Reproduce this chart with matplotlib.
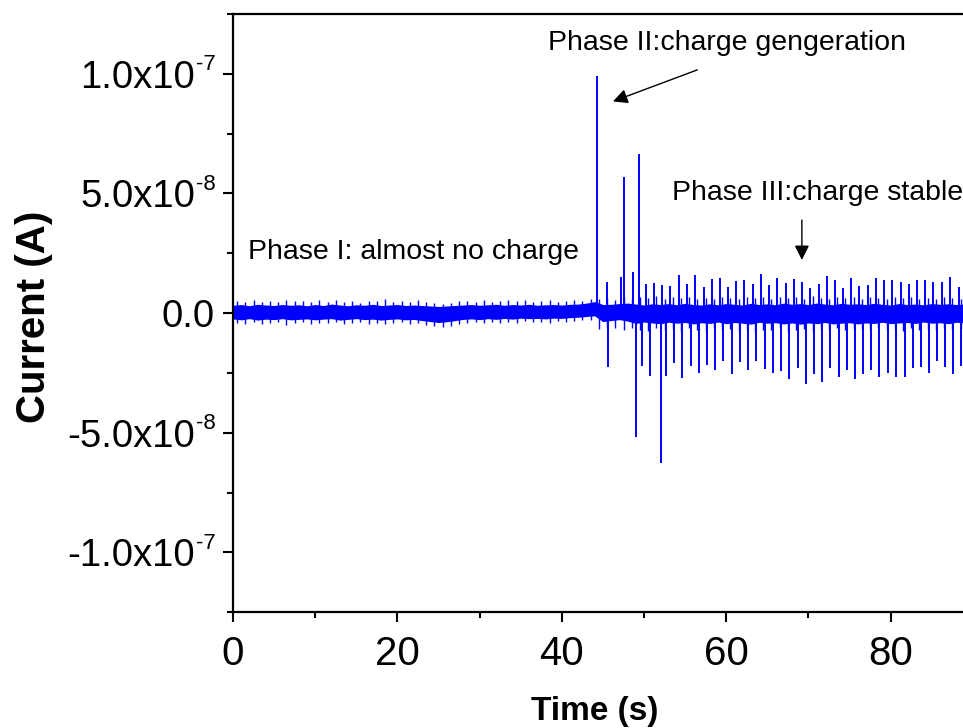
import numpy as np
import matplotlib
matplotlib.use("Agg")
import matplotlib.pyplot as plt
from matplotlib import font_manager
from matplotlib.ticker import MultipleLocator, NullFormatter

# --- DATA (current values in units of 1e-9 A, time in s) ---------------------
# noise band core, one reading per second
band_t = list(range(0, 90))
band_hi = [2.9, 3.2, 2.7, 3.3, 3.0, 2.8, 3.2, 2.9, 3.1, 2.7,
           3.2, 2.8, 3.4, 3.0, 2.7, 3.1, 2.9, 3.3, 2.8, 3.0,
           3.2, 2.8, 3.0, 2.8, 2.6, 2.4, 2.6, 2.8, 3.0, 3.2,
           2.9, 3.1, 3.3, 2.9, 3.2, 3.0, 3.3, 2.9, 3.1, 3.2,
           3.0, 3.3, 3.4, 3.8, 4.4, 3.2, 3.3, 3.6, 3.8, 3.4,
           3.0, 3.5, 3.2, 3.6, 3.1, 3.7, 3.2, 3.0, 3.5, 3.1,
           3.6, 3.3, 3.0, 3.7, 3.2, 3.5, 3.1, 3.8, 3.3, 3.6,
           3.2, 3.8, 3.4, 3.1, 3.7, 3.3, 3.5, 3.2, 3.7, 3.3,
           3.0, 3.6, 3.2, 3.4, 3.1, 3.6, 3.3, 3.5, 3.2, 3.4]
band_lo = [-2.1, -2.5, -2.0, -2.6, -2.2, -2.4, -2.0, -2.5, -2.3, -2.1,
           -2.5, -2.2, -2.0, -2.6, -2.3, -2.0, -2.4, -2.2, -2.6, -2.3,
           -2.1, -2.5, -2.3, -2.8, -3.2, -3.6, -3.3, -2.8, -2.3, -2.1,
           -2.4, -2.0, -2.3, -1.9, -2.2, -1.8, -2.0, -1.9, -2.1, -1.8,
           -1.9, -1.6, -1.4, -1.1, -0.8, -3.2, -2.8, -2.4, -3.0, -4.0,
           -3.4, -3.8, -4.1, -3.5, -3.9, -3.6, -4.2, -3.7, -4.0, -3.4,
           -4.1, -3.6, -3.9, -4.3, -3.5, -3.9, -3.7, -4.2, -3.8, -4.3,
           -3.8, -4.1, -3.6, -4.2, -3.9, -3.7, -4.2, -3.8, -4.0, -3.5,
           -4.1, -3.8, -3.6, -4.0, -3.4, -3.9, -3.7, -4.1, -3.5, -3.8]

# noise excursions between the band readings (t = 0.5, 1.5, ...)
tip_hi = [5.0, 4.6, 5.4, 4.8, 5.2, 4.5, 5.6, 4.9, 5.1, 4.7,
          5.3, 4.6, 5.5, 4.8, 5.0, 4.4, 5.2, 4.9, 5.7, 4.6,
          5.1, 4.8, 5.3, 4.5, 4.0, 3.8, 4.2, 4.9, 5.2, 4.7,
          5.4, 4.8, 5.0, 5.6, 4.9, 5.3, 4.7, 5.1, 5.5, 4.8,
          5.2, 5.6, 5.0, 6.0,
          5.8, 6.4, 5.6, 6.8, 5.9, 6.5, 6.1, 7.0, 5.8, 6.6,
          6.2, 6.9, 5.7, 6.4, 6.0, 6.8, 6.3, 5.9, 6.7, 6.1,
          6.5, 5.8, 6.9, 6.2, 6.6, 6.0, 7.1, 6.3, 5.9, 6.8,
          6.2, 6.5, 6.0, 6.9, 6.3, 5.8, 6.6, 6.1, 6.7, 6.0,
          6.4, 5.9, 6.5, 6.2, 6.0]
tip_lo = [-4.0, -4.6, -3.8, -4.4, -4.1, -3.7, -4.8, -4.2, -3.9, -4.5,
          -4.0, -4.3, -3.8, -4.7, -4.1, -3.9, -4.4, -4.0, -4.6, -4.2,
          -3.8, -4.5, -4.1, -5.0, -5.6, -6.0, -5.4, -4.6, -4.1, -3.9,
          -4.3, -3.8, -4.2, -3.7, -4.0, -3.5, -3.9, -3.6, -4.1, -3.4,
          -3.7, -3.2, -3.0, -2.8,
          -6.8, -5.9, -6.4, -7.2, -6.1, -6.9, -7.5, -6.3, -7.0, -6.6,
          -7.3, -6.2, -6.9, -7.6, -6.4, -7.1, -6.7, -7.4, -6.5, -7.8,
          -6.9, -7.2, -6.4, -7.5, -7.0, -6.6, -7.3, -6.8, -7.1, -6.3,
          -7.2, -6.8, -6.5, -7.1, -6.2, -7.0, -6.7, -7.3, -6.4, -6.9,
          -6.6, -7.0, -6.3, -6.8, -6.5]

# positive discharge spikes
pos_t = [44.25, 45.5, 47.2, 47.5, 48.7, 49.35,
         50.2, 51.2, 52.2, 53.2, 54.3, 55.2, 56.2, 57.3, 58.3, 59.2,
         60.2, 61.2, 62.2, 63.2, 64.2, 65.2, 66.2, 67.3, 68.2, 69.2,
         70.2, 71.3, 72.3, 73.2, 74.2, 75.2, 76.2, 77.2, 78.2, 79.2,
         80.2, 81.2, 82.2, 83.2, 84.2, 85.2, 86.3, 87.2, 88.3]
pos_amp = [99.0, 13.0, 15.0, 57.0, 17.0, 66.5,
           12.0, 12.7, 11.8, 11.3, 16.1, 12.1, 15.7, 10.9, 14.2, 14.7,
           11.0, 13.5, 13.8, 12.1, 16.3, 11.7, 14.5, 12.7, 14.2, 12.9,
           10.4, 12.1, 15.4, 14.0, 10.6, 14.7, 11.4, 11.8, 14.7, 13.8,
           13.8, 13.1, 12.0, 13.9, 14.0, 12.9, 12.8, 15.2, 11.0]

# negative discharge spikes
neg_t = [45.66, 48.99, 49.72, 50.69, 52.1, 52.71, 53.69, 54.66, 55.68,
         56.65, 57.66, 58.64, 59.65, 60.67, 61.68, 62.65, 63.66, 64.66,
         65.66, 66.67, 67.68, 68.70, 69.71, 70.72, 71.69, 72.66, 73.69,
         74.66, 75.67, 76.64, 77.65, 78.63, 79.65, 80.69, 81.72, 82.69,
         83.70, 84.67, 85.64, 86.65, 87.63, 88.60]
neg_amp = [-22.7, -51.6, -22.0, -26.3, -62.7, -26.3, -21.0, -27.3, -22.1,
           -24.9, -21.7, -23.9, -19.9, -25.3, -20.3, -23.9, -19.9, -23.2,
           -25.0, -24.1, -27.7, -23.1, -29.8, -25.5, -28.9, -23.1, -26.7,
           -23.8, -27.7, -25.5, -23.7, -26.6, -25.0, -26.8, -26.7, -23.1,
           -22.4, -25.0, -20.0, -22.5, -25.5, -22.3]

# y tick labels (Origin style: mantissa + small exponent)
ytick_vals = [-1e-7, -5e-8, 0.0, 5e-8, 1e-7]
ytick_mant = ["-1.0x10", "-5.0x10", "0.0", "5.0x10", "1.0x10"]
ytick_exp = ["-7", "-8", "", "-8", "-7"]

SCALE = 1e-9
BLUE = "#0000ff"

# --- FONTS ---------------------------------------------------------------------
plt.rcParams["font.family"] = ["Liberation Sans", "DejaVu Sans"]
installed = {f.name for f in font_manager.fontManager.ttflist}
HAS_NARROW = "Liberation Sans Narrow" in installed
NARROW = ["Liberation Sans Narrow", "Liberation Sans", "DejaVu Sans"]


def draw_ytick_labels(ax):
    """Hand-placed tick labels so the exponent stays small like Origin's"""
    ytrans = ax.get_yaxis_transform()
    for v, mant, exp in zip(ytick_vals, ytick_mant, ytick_exp):
        if exp:
            ax.text(-0.052, v, mant, transform=ytrans, fontsize=27.5,
                    ha="right", va="center_baseline")
            ax.annotate(exp, xy=(-0.051, v), xycoords=ytrans, xytext=(0, 6.5),
                        textcoords="offset points", fontsize=16,
                        ha="left", va="center")
        else:
            ax.text(-0.025, v, mant, transform=ytrans, fontsize=27.5,
                    ha="right", va="center_baseline")


def main():
    fig = plt.figure(figsize=(9.63, 7.28), dpi=100)
    ax = fig.add_axes([0.242, 0.159, 0.758, 0.822])

    # noise band
    ax.fill_between(band_t, np.array(band_lo) * SCALE, np.array(band_hi) * SCALE,
                    color=BLUE, lw=1.2)
    tip_t = np.array(band_t[:-1]) + 0.5
    ax.vlines(tip_t, np.array(tip_lo) * SCALE, np.array(tip_hi) * SCALE,
              color=BLUE, lw=1.0)
    # spikes
    ax.vlines(pos_t, 0, np.array(pos_amp) * SCALE, color=BLUE, lw=1.4)
    ax.vlines(neg_t, 0, np.array(neg_amp) * SCALE, color=BLUE, lw=1.4)

    ax.set_xlim(0, 88.8)
    ax.set_ylim(-1.25e-7, 1.25e-7)

    # ticks
    ax.xaxis.set_major_locator(MultipleLocator(20))
    ax.xaxis.set_minor_locator(MultipleLocator(10))
    ax.set_yticks(ytick_vals)
    ax.yaxis.set_minor_locator(MultipleLocator(2.5e-8))
    ax.yaxis.set_major_formatter(NullFormatter())
    ax.tick_params(which="major", direction="out", length=7.2, width=1.5)
    ax.tick_params(which="minor", direction="out", length=4.3, width=1.5)
    ax.tick_params(axis="x", pad=9)
    for lab in ax.get_xticklabels():
        lab.set_family(NARROW)
        lab.set_fontsize(32 if HAS_NARROW else 29)
    draw_ytick_labels(ax)

    for side in ["left", "bottom", "top"]:
        ax.spines[side].set_linewidth(1.6)
    ax.spines["right"].set_visible(False)

    # axis labels
    ax.set_xlabel("Time (s)", fontsize=28 if HAS_NARROW else 24,
                  fontweight="bold", family=NARROW, va="center")
    ax.xaxis.set_label_coords(0.496, -0.166)
    ax.set_ylabel("Current (A)", fontsize=29, fontweight="bold", va="center")
    ax.yaxis.set_label_coords(-0.272, 0.493)

    # annotations
    ax.text(1.8, 0.255e-7, "Phase I: almost no charge", fontsize=20.5, va="center")
    ax.text(38.3, 1.13e-7, "Phase II:charge gengeration", fontsize=20.5, va="center")
    ax.text(53.4, 0.50e-7, "Phase III:charge stable", fontsize=20.5, va="center")
    arrow = dict(arrowstyle="-|>", color="black", lw=1, mutation_scale=22)
    ax.annotate("", xy=(45.9, 0.88e-7), xytext=(56.8, 1.02e-7), arrowprops=arrow)
    ax.annotate("", xy=(69.2, 0.21e-7), xytext=(69.2, 0.40e-7), arrowprops=arrow)

    fig.savefig("out.png", dpi=100)


if __name__ == "__main__":
    main()
